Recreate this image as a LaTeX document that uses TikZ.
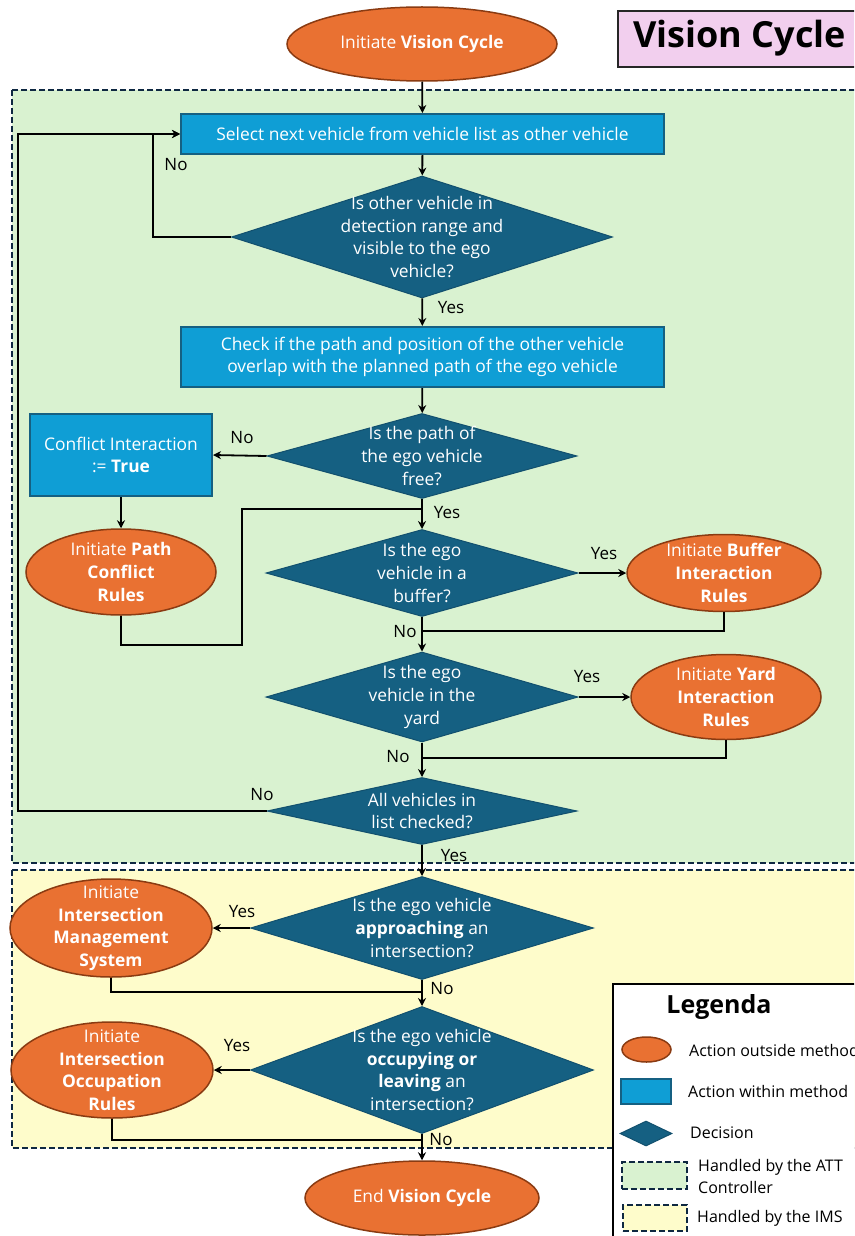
\documentclass[tikz,border=0pt]{standalone}
\usepackage{fontspec}
\setmainfont{Open Sans}
\usetikzlibrary{shapes.geometric,arrows.meta}

\definecolor{actorange}{HTML}{E97132}
\definecolor{actedge}{HTML}{8A3B12}
\definecolor{procblue}{HTML}{0F9ED5}
\definecolor{procedge}{HTML}{156082}
\definecolor{decfill}{HTML}{156082}
\definecolor{decedge}{HTML}{12506E}
\definecolor{attgreen}{HTML}{D9F2D0}
\definecolor{imsyellow}{HTML}{FEFCCB}
\definecolor{zoneedge}{HTML}{0E2841}
\definecolor{titlepink}{HTML}{F2CFEE}

\tikzset{
  wtext/.style={text=white, align=center, font=\fontsize{17.4}{22.6}\selectfont, inner sep=0pt},
  action/.style={ellipse, fill=actorange, draw=actedge, line width=1.5pt, inner sep=0pt},
  process/.style={rectangle, fill=procblue, draw=procedge, line width=2pt, inner sep=0pt},
  decision/.style={diamond, fill=decfill, draw=decedge, line width=1pt, inner sep=0pt},
  sz/.style 2 args={minimum width=#1pt, minimum height=#2pt},
  txt/.style={label={[wtext]center:{#1}}},
  line/.style={draw=black, line width=1.8pt},
  arr/.style={line, -{Stealth[length=8pt,width=8pt]}},
  branch/.style={font=\fontsize{17}{20}\selectfont, text=black, inner sep=0pt},
  zone/.style={draw=zoneedge, line width=1.5pt, dash pattern=on 6pt off 3pt},
  legtext/.style={font=\fontsize{16}{22}\selectfont, anchor=west, align=left, inner sep=0pt},
}

\begin{document}
\begin{tikzpicture}[x=1pt, y=-1pt]
\useasboundingbox (0,0) rectangle (854,1236);
\clip (0,0) rectangle (854,1236);
\fill[white] (0,0) rectangle (854,1236);

% swimlane areas
\draw[zone, fill=attgreen] (12,90) rectangle (880,863);
\draw[zone, fill=imsyellow] (12,870) rectangle (880,1148);

% title
\node[rectangle, fill=titlepink, draw=black!85, line width=2pt, sz={260}{56}, anchor=north west] (title) at (617,10) {};
\node[anchor=west, inner sep=0pt, font=\fontsize{36}{40}\selectfont\bfseries] (titletext) at (633,38) {Vision Cycle};

% nodes
\node[action, sz={270}{74}, txt={Initiate \textbf{Vision Cycle}}] (start) at (422,44) {};
\node[process, sz={483}{40}, txt={Select next vehicle from vehicle list as other vehicle}] (sel) at (422.5,134) {};
\node[decision, sz={381}{122}, txt={Is other vehicle in\\detection range and\\visible to the ego\\vehicle?}] (d1) at (422,237) {};
\node[process, sz={483}{60}, txt={Check if the path and position of the other vehicle\\overlap with the planned path of the ego vehicle}] (chk) at (422.5,357) {};
\node[decision, sz={310}{85}, txt={Is the path of\\the ego vehicle\\free?}] (d2) at (422,456) {};
\node[process, sz={182}{82}, txt={Conflict Interaction\\:= \textbf{True}}] (conf) at (121,455) {};
\node[action, sz={190}{86}, txt={Initiate \textbf{Path}\\\textbf{Conflict}\\\textbf{Rules}}] (pc) at (121,572) {};
\node[decision, sz={312}{87}, txt={Is the ego\\vehicle in a\\buffer?}] (d3) at (422,573) {};
\node[action, sz={194}{77}, txt={Initiate \textbf{Buffer}\\\textbf{Interaction}\\\textbf{Rules}}] (buf) at (724,573) {};
\node[decision, sz={312}{90}, txt={Is the ego\\vehicle in the\\yard}] (d4) at (422,697) {};
\node[action, sz={190}{85}, txt={Initiate \textbf{Yard}\\\textbf{Interaction}\\\textbf{Rules}}] (yard) at (726,697) {};
\node[decision, sz={310}{67}, txt={All vehicles in\\list checked?}] (d5) at (422,811) {};
\node[decision, sz={343}{103}, txt={Is the ego vehicle\\\textbf{approaching} an\\intersection?}] (d6) at (422,928) {};
\node[action, sz={202}{98}, txt={Initiate\\\textbf{Intersection}\\\textbf{Management}\\\textbf{System}}] (ims) at (111,928) {};
\node[decision, sz={343}{127}, txt={Is the ego vehicle\\\textbf{occupying or}\\\textbf{leaving} an\\intersection?}] (d7) at (422,1070) {};
\node[action, sz={202}{96}, txt={Initiate\\\textbf{Intersection}\\\textbf{Occupation}\\\textbf{Rules}}] (occ) at (112,1070) {};
\node[action, sz={234}{74}, txt={End \textbf{Vision Cycle}}] (end) at (422,1198) {};

% helper points on the loops and joins
\coordinate (loopx) at (18,811);
\coordinate (nox) at (153,237);
\coordinate (j1) at (422,509);
\coordinate (j2) at (422,631);
\coordinate (j3) at (422,758);
\coordinate (j4) at (422,992);
\coordinate (j5) at (422,1140);

% connectors
\draw[arr] (start) -- (sel);
\draw[arr] (sel) -- (d1);
\draw[arr] (d1.west) -- (nox) |- (sel.west);
\draw[arr] (d5.west) -- (loopx) |- (sel.west);
\draw[arr] (d1) -- (chk);
\draw[arr] (chk) -- (d2);
\draw[arr] (d2.west) -- (conf.east);
\draw[arr] (conf) -- (pc);
\draw[line] (pc.south) -- ++(0,29) -- ++(121,0) |- (j1);
\draw[arr] (d2) -- (d3);
\draw[arr] (d3.east) -- (buf.west);
\draw[line] (buf.south) |- (j2);
\draw[arr] (d3) -- (d4);
\draw[arr] (d4.east) -- (yard.west);
\draw[line] (yard.south) |- (j3);
\draw[arr] (d4) -- (d5);
\draw[arr] (d5) -- (d6);
\draw[arr] (d6.west) -- (ims.east);
\draw[line] (ims.south) |- (j4);
\draw[arr] (d6) -- (d7);
\draw[arr] (d7.west) -- (occ.east);
\draw[line] (occ.south) |- (j5);
\draw[arr] (d7) -- (end);

% branch labels
\node[branch] (l1) at (176,165) {No};
\node[branch] (l2) at (451,308) {Yes};
\node[branch] (l3) at (242,438) {No};
\node[branch] (l4) at (447,513) {Yes};
\node[branch] (l5) at (604,554) {Yes};
\node[branch] (l6) at (405,632) {No};
\node[branch] (l7) at (587,677) {Yes};
\node[branch] (l8) at (398,757) {No};
\node[branch] (l9) at (262,795) {No};
\node[branch] (l10) at (454,856) {Yes};
\node[branch] (l11) at (242,912) {Yes};
\node[branch] (l12) at (442,989) {No};
\node[branch] (l13) at (237,1046) {Yes};
\node[branch] (l14) at (441,1140) {No};

% legend
\node[rectangle, fill=white, draw=black, line width=2pt, sz={270}{270}, anchor=north west] (legend) at (612,983) {};
\node[inner sep=0pt, font=\fontsize{25}{28}\selectfont\bfseries] (legtitle) at (719,1007) {Legenda};
\node[action, sz={49}{25}] (legact) at (646.5,1049.5) {};
\node[legtext] (legacttext) at (689,1050) {Action outside method};
\node[process, sz={50}{25}] (legproc) at (646,1091.5) {};
\node[legtext] (legproctext) at (688,1091) {Action within method};
\node[decision, sz={52}{25}] (legdec) at (646,1133.5) {};
\node[legtext] (legdectext) at (690,1133) {Decision};
\node[rectangle, zone, fill=attgreen, sz={65}{27}] (legatt) at (654.5,1175.5) {};
\node[legtext] (legatttext) at (698,1176) {Handled by the ATT\\Controller};
\node[rectangle, zone, fill=imsyellow, sz={64}{26}] (legims) at (655,1218) {};
\node[legtext] (legimstext) at (697,1218) {Handled by the IMS};
\end{tikzpicture}
\end{document}
